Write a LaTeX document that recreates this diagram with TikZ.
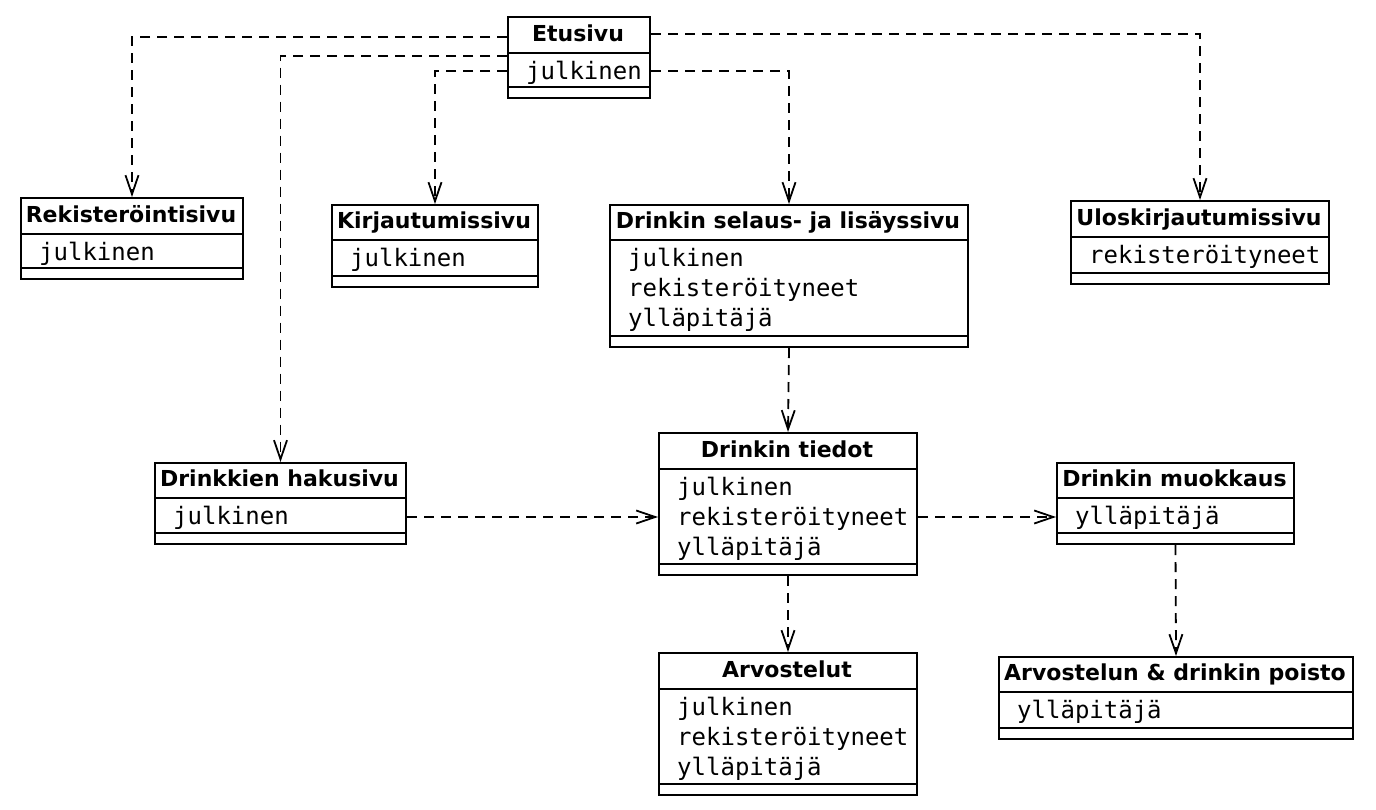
\documentclass[tikz,border=0pt]{standalone}
\usepackage{fontspec}
\setmainfont{DejaVu Sans}
\newfontfamily\attrfont{DejaVu Sans Mono}
\usetikzlibrary{arrows.meta}

\tikzset{
  classbox/.style={draw, line width=2pt, anchor=north west, inner sep=0pt},
  divline/.style={line width=2pt},
  classtitle/.style={anchor=base, inner sep=0pt, font=\fontsize{22}{26}\selectfont\bfseries},
  classattr/.style={anchor=base west, inner sep=0pt, font=\fontsize{24}{30}\selectfont\attrfont},
  dep/.style={line width=1.8pt, dash pattern=on 10pt off 7pt,
    -{Straight Barb[length=19pt,width=13pt,line width=1.8pt]}}
}

% \umlclass{name}{x1}{y1}{x2}{y2}{title divider y}{attribute divider y}{title}{attributes}
\newcommand\umlclass[9]{%
  \node[classbox, minimum width={#4-#2}, minimum height={#5-#3}] (#1) at (#2,#3) {};
  \draw[divline] (#2,#6) -- (#4,#6);
  \draw[divline] (#2,#7) -- (#4,#7);
  \node[classtitle] (#1-title) at ({(#2+#4)/2},{#6-11.5}) {#8};
  \foreach \l [count=\i] in {#9}
    \node[classattr] (#1-attr\i) at ({#2+19},{#6+26+30*(\i-1)}) {\l};
}

\begin{document}
\begin{tikzpicture}[x=1pt,y=-1pt]
\useasboundingbox (0,0) rectangle (1376,809);

\umlclass{etu}{507}{16}{649}{97}{53}{87}{Etusivu}{julkinen}
\umlclass{reg}{20}{197}{242}{278}{234}{268}{Rekisteröintisivu}{julkinen}
\umlclass{kirj}{331}{204}{537}{286}{240}{276}{Kirjautumissivu}{julkinen}
\umlclass{sel}{609}{204}{967}{346}{240}{336}{Drinkin selaus- ja lisäyssivu}{julkinen,rekisteröityneet,ylläpitäjä}
\umlclass{ulos}{1070}{200}{1328}{283}{237}{273}{Uloskirjautumissivu}{rekisteröityneet}
\umlclass{haku}{154}{462}{405}{543}{498}{533}{Drinkkien hakusivu}{julkinen}
\umlclass{tied}{658}{432}{916}{574}{469}{564}{Drinkin tiedot}{julkinen,rekisteröityneet,ylläpitäjä}
\umlclass{muok}{1056}{462}{1293}{543}{498}{533}{Drinkin muokkaus}{ylläpitäjä}
\umlclass{arv}{658}{652}{916}{794}{689}{784}{Arvostelut}{julkinen,rekisteröityneet,ylläpitäjä}
\umlclass{pois}{998}{656}{1352}{738}{692}{728}{Arvostelun \& drinkin poisto}{ylläpitäjä}

% links leaving the front page
\draw[dep] (etu.west |- 0,37) -| (reg.north);
\draw[dep] (etu.west |- 0,56) -| (haku.north);
\draw[dep] (etu.west |- 0,71) -| (kirj.north);
\draw[dep] (etu.east |- 0,34) -| (ulos.north);
\draw[dep] (etu.east |- 0,71) -| (sel.north);

% drink pages
\draw[dep] (sel.south) -- (tied.north);
\draw[dep] (haku.east |- 0,517) -- (tied.west |- 0,517);
\draw[dep] (tied.east |- 0,517) -- (muok.west |- 0,517);
\draw[dep] (tied.south) -- (arv.north);
\draw[dep] (muok.south) -- (pois.north);
\end{tikzpicture}
\end{document}
